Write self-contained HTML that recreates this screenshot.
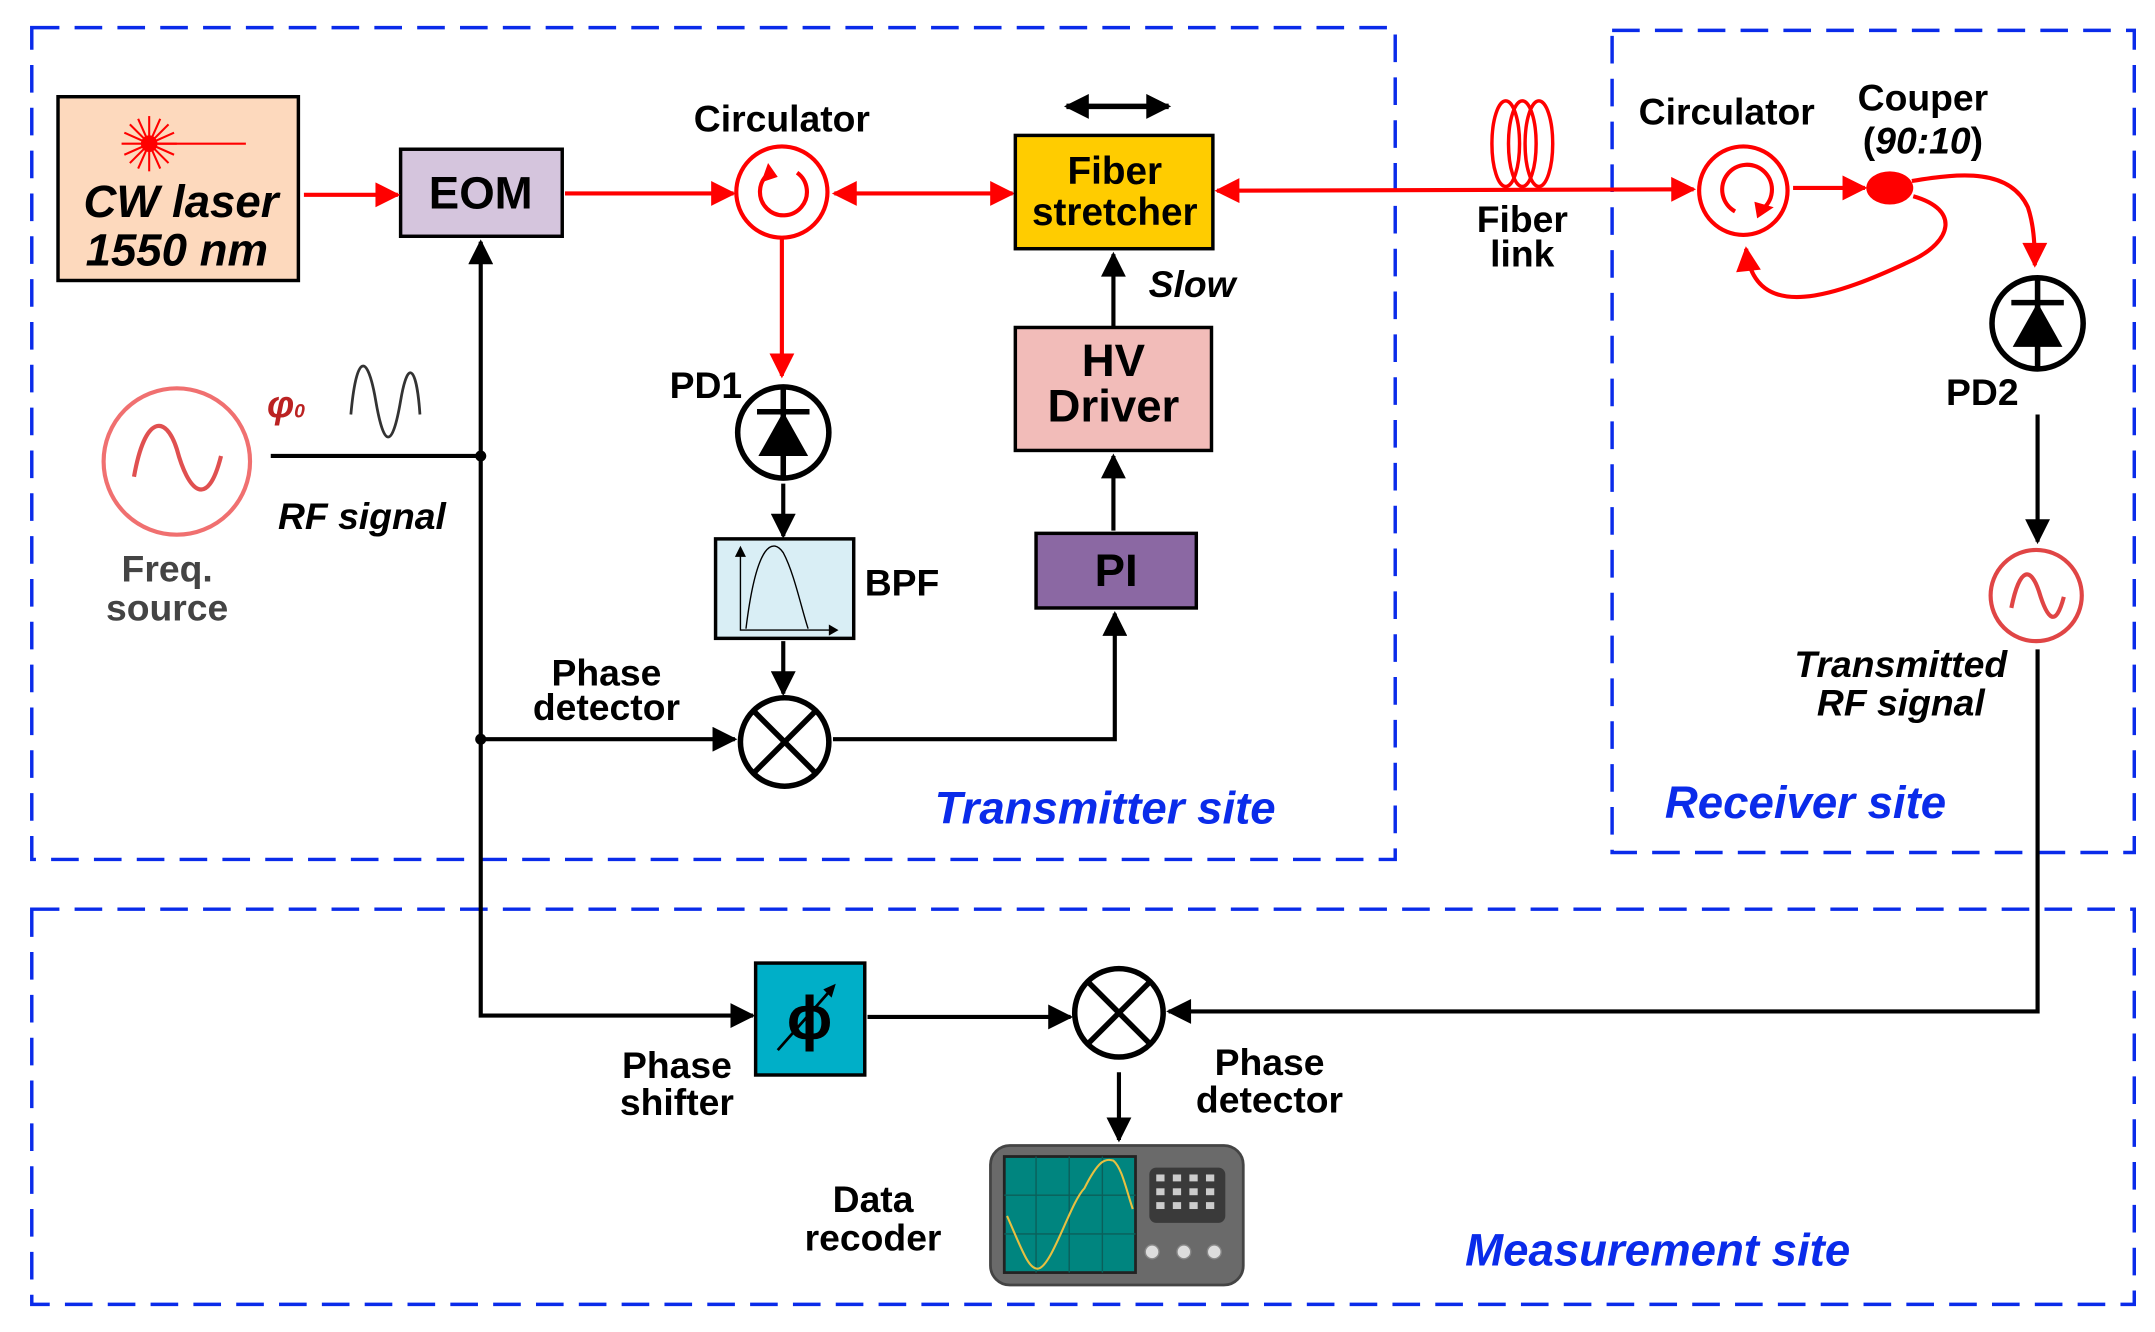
<!DOCTYPE html>
<html><head><meta charset="utf-8"><style>
html,body{margin:0;padding:0;background:#fff;}
svg{display:block;}
text{font-family:"Liberation Sans",sans-serif;font-weight:bold;}
</style></head><body>
<svg width="2155" height="1332" viewBox="0 0 1560 964" preserveAspectRatio="none" xmlns="http://www.w3.org/2000/svg">
<defs>
<marker id="ar" markerWidth="10" markerHeight="10" refX="9" refY="5" orient="auto" markerUnits="userSpaceOnUse" viewBox="0 0 10 10"><path d="M0,0 L10,5 L0,10z" fill="#f00"/></marker>
<marker id="ab" markerWidth="10" markerHeight="10" refX="9" refY="5" orient="auto" markerUnits="userSpaceOnUse" viewBox="0 0 10 10"><path d="M0,0 L10,5 L0,10z" fill="#000"/></marker>
<marker id="arS" viewBox="0 0 10 10" refX="9" refY="5" markerWidth="20" markerHeight="18" orient="auto-start-reverse" markerUnits="userSpaceOnUse"><path d="M0,0 L10,5 L0,10z" fill="#f00"/></marker>
<marker id="abS" viewBox="0 0 10 10" refX="9" refY="5" markerWidth="20" markerHeight="18" orient="auto-start-reverse" markerUnits="userSpaceOnUse"><path d="M0,0 L10,5 L0,10z" fill="#000"/></marker>
</defs>
<g fill="none" stroke="#0a2bea" stroke-width="2.5" stroke-dasharray="20,11">
<rect x="23" y="20" width="987" height="602"/>
<rect x="1167" y="22" width="378" height="595"/>
<rect x="23" y="658" width="1522" height="286"/>
</g>
<!-- CW laser -->
<rect x="42" y="70" width="174" height="133" fill="#fdd9bd" stroke="#000" stroke-width="2.5"/>
<g stroke="#f00" stroke-width="1.5"><line x1="108" y1="104" x2="178" y2="104"/>
<g transform="translate(108,104)">
<line x1="-20" y1="0" x2="20" y2="0"/><line x1="0" y1="-20" x2="0" y2="20"/><line x1="-14" y1="-14" x2="14" y2="14"/><line x1="-14" y1="14" x2="14" y2="-14"/>
<line x1="-18" y1="-8" x2="18" y2="8"/><line x1="-18" y1="8" x2="18" y2="-8"/><line x1="-8" y1="-18" x2="8" y2="18"/><line x1="8" y1="-18" x2="-8" y2="18"/></g></g>
<circle cx="108" cy="104" r="6" fill="#f00"/>
<text x="131" y="157" font-size="33" font-style="italic" text-anchor="middle">CW laser</text>
<text x="128" y="192" font-size="33" font-style="italic" text-anchor="middle">1550 nm</text>
<!-- EOM -->
<rect x="290" y="108" width="117" height="63" fill="#d5c5dd" stroke="#000" stroke-width="2.5"/>
<text x="348" y="151" font-size="33" text-anchor="middle">EOM</text>
<g stroke="#f00" stroke-width="3" fill="none">
<line x1="220" y1="141" x2="288" y2="141" marker-end="url(#arS)"/>
<line x1="409" y1="140" x2="531" y2="140" marker-end="url(#arS)"/>
<line x1="604" y1="140" x2="733" y2="140" marker-start="url(#arS)" marker-end="url(#arS)"/>
<line x1="881" y1="138" x2="1226" y2="137" marker-start="url(#arS)" marker-end="url(#arS)"/>
<line x1="566" y1="172" x2="566" y2="272" marker-end="url(#arS)"/>
<line x1="1298" y1="136" x2="1350" y2="136" marker-end="url(#arS)"/>
<path d="M1384,131 C1420,125 1455,122 1468,150 C1472,162 1473,175 1473,192" marker-end="url(#arS)"/>
<path d="M1385,142 C1420,152 1412,175 1385,188 C1330,214 1270,236 1264,180" marker-end="url(#arS)"/>
</g>
<!-- circulators -->
<g stroke="#f00" stroke-width="3" fill="none">
<circle cx="566" cy="139" r="33"/>
<path d="M556,126 A17,17 0 1,0 577,125"/>
<circle cx="1262" cy="138" r="32"/>
<path d="M1256,153 A18,18 0 1,1 1275,152"/>
<ellipse cx="1090" cy="104" rx="10" ry="31" stroke-width="2.5"/>
<ellipse cx="1102" cy="104" rx="10" ry="31" stroke-width="2.5"/>
<ellipse cx="1114" cy="104" rx="10" ry="31" stroke-width="2.5"/>
</g>
<path d="M556,118 L551,132 L563,128z" fill="#f00"/>
<path d="M1284,150 L1272,158 L1270,146z" fill="#f00"/>
<ellipse cx="1368" cy="136" rx="17" ry="12" fill="#f00"/>
<text x="566" y="95" font-size="27" text-anchor="middle">Circulator</text>
<text x="1250" y="90" font-size="27" text-anchor="middle">Circulator</text>
<text x="1392" y="80" font-size="27" text-anchor="middle">Couper</text>
<text x="1392" y="111" font-size="27" text-anchor="middle">(<tspan font-style="italic">90:10</tspan>)</text>
<text x="1102" y="168" font-size="27" text-anchor="middle">Fiber</text>
<text x="1102" y="193" font-size="27" text-anchor="middle">link</text>
<!-- Fiber stretcher -->
<rect x="735" y="98" width="143" height="82" fill="#ffcc00" stroke="#000" stroke-width="2.5"/>
<text x="807" y="133" font-size="28" text-anchor="middle">Fiber</text>
<text x="807" y="163" font-size="28" text-anchor="middle">stretcher</text>
<line x1="772" y1="77" x2="846" y2="77" stroke="#000" stroke-width="4" marker-start="url(#abS)" marker-end="url(#abS)"/>
<!-- HV driver, PI -->
<rect x="735" y="237" width="142" height="89" fill="#f2bcb9" stroke="#000" stroke-width="2.5"/>
<text x="806" y="272" font-size="33" text-anchor="middle">HV</text>
<text x="806" y="305" font-size="33" text-anchor="middle">Driver</text>
<rect x="750" y="386" width="116" height="54" fill="#8b68a3" stroke="#000" stroke-width="2.5"/>
<text x="808" y="424" font-size="33" text-anchor="middle">PI</text>
<text x="863" y="215" font-size="27" font-style="italic" text-anchor="middle">Slow</text>
<g stroke="#000" stroke-width="3" fill="none">
<line x1="806" y1="237" x2="806" y2="184" marker-end="url(#abS)"/>
<line x1="806" y1="384" x2="806" y2="330" marker-end="url(#abS)"/>
<polyline points="603,535 807,535 807,444" marker-end="url(#abS)"/>
<line x1="567" y1="350" x2="567" y2="388" marker-end="url(#abS)"/>
<line x1="567" y1="464" x2="567" y2="502" marker-end="url(#abS)"/>
<polyline points="348,330 348,175" marker-end="url(#abS)"/>
<polyline points="348,330 348,735 545,735" marker-end="url(#abS)"/>
<line x1="348" y1="535" x2="532" y2="535" marker-end="url(#abS)"/>
<line x1="196" y1="330" x2="348" y2="330"/>
<line x1="628" y1="736" x2="775" y2="736" marker-end="url(#abS)"/>
<polyline points="1475,470 1475,732 846,732" marker-end="url(#abS)"/>
<line x1="1475" y1="300" x2="1475" y2="392" marker-end="url(#abS)"/>
<line x1="810" y1="776" x2="810" y2="825" marker-end="url(#abS)"/>
</g>
<circle cx="348" cy="330" r="4" fill="#000"/><circle cx="348" cy="535" r="4" fill="#000"/>
<!-- photodiodes -->
<g>
<circle cx="567" cy="313" r="33" fill="#fff" stroke="#000" stroke-width="4"/>
<line x1="567" y1="280" x2="567" y2="346" stroke="#000" stroke-width="4"/>
<line x1="548" y1="298" x2="586" y2="298" stroke="#000" stroke-width="4"/>
<path d="M549,330 L585,330 L567,298z" fill="#000"/>
<circle cx="1475" cy="234" r="33" fill="#fff" stroke="#000" stroke-width="4"/>
<line x1="1475" y1="201" x2="1475" y2="267" stroke="#000" stroke-width="4"/>
<line x1="1456" y1="219" x2="1494" y2="219" stroke="#000" stroke-width="4"/>
<path d="M1457,251 L1493,251 L1475,219z" fill="#000"/>
</g>
<text x="511" y="288" font-size="27" text-anchor="middle">PD1</text>
<text x="1435" y="293" font-size="27" text-anchor="middle">PD2</text>
<!-- BPF -->
<rect x="518" y="390" width="100" height="72" fill="#d9eef5" stroke="#000" stroke-width="2.5"/>
<g stroke="#000" stroke-width="1" fill="none"><polyline points="536,397 536,456 605,456"/><path d="M540,455 C548,390 560,390 567,400 C575,415 580,440 585,455"/></g>
<path d="M532,403 L536,395 L540,403z M600,452 L607,456 L600,460z" fill="#000"/>
<text x="653" y="431" font-size="27" text-anchor="middle">BPF</text>
<!-- mixers -->
<g stroke="#000" stroke-width="4" fill="#fff">
<circle cx="568" cy="537" r="32"/>
<circle cx="810" cy="733" r="32"/>
</g>
<g stroke="#000" stroke-width="4">
<line x1="546" y1="515" x2="590" y2="559"/><line x1="590" y1="515" x2="546" y2="559"/>
<line x1="788" y1="711" x2="832" y2="755"/><line x1="832" y1="711" x2="788" y2="755"/>
</g>
<text x="439" y="496" font-size="27" text-anchor="middle">Phase</text>
<text x="439" y="521" font-size="27" text-anchor="middle">detector</text>
<text x="919" y="778" font-size="27" text-anchor="middle">Phase</text>
<text x="919" y="805" font-size="27" text-anchor="middle">detector</text>
<!-- Freq source -->
<circle cx="128" cy="334" r="53" fill="none" stroke="#f07070" stroke-width="3"/>
<path d="M97,345 C105,300 120,300 128,325 C136,355 150,370 160,330" fill="none" stroke="#e05050" stroke-width="3"/>
<text x="121" y="421" font-size="27" fill="#444" text-anchor="middle">Freq.</text>
<text x="121" y="449" font-size="27" fill="#444" text-anchor="middle">source</text>
<text x="207" y="302" font-size="28" fill="#b22" font-style="italic" font-family="Liberation Serif" text-anchor="middle">φ<tspan font-size="14">0</tspan></text>
<path d="M254,300 C258,255 266,255 272,290 C278,325 284,325 290,290 C296,255 302,270 304,300" fill="none" stroke="#333" stroke-width="2"/>
<text x="262" y="383" font-size="27" font-style="italic" text-anchor="middle">RF signal</text>
<text x="800" y="596" font-size="33" font-style="italic" fill="#0a2bea" text-anchor="middle">Transmitter site</text>
<!-- receiver RF -->
<circle cx="1474" cy="431" r="33" fill="none" stroke="#e04545" stroke-width="3"/>
<path d="M1456,440 C1462,410 1470,410 1476,428 C1482,448 1488,455 1494,432" fill="none" stroke="#e04545" stroke-width="3"/>
<text x="1376" y="490" font-size="27" font-style="italic" text-anchor="middle">Transmitted</text>
<text x="1376" y="518" font-size="27" font-style="italic" text-anchor="middle">RF signal</text>
<text x="1307" y="592" font-size="33" font-style="italic" fill="#0a2bea" text-anchor="middle">Receiver  site</text>
<!-- phase shifter -->
<rect x="547" y="697" width="79" height="81" fill="#00afc8" stroke="#000" stroke-width="2.5"/>
<text x="586" y="752" font-size="44" font-family="Liberation Serif" text-anchor="middle">ϕ</text>
<line x1="563" y1="760" x2="600" y2="718" stroke="#000" stroke-width="2"/>
<path d="M605,712 L596,716 L602,722z" fill="#000"/>
<text x="490" y="780" font-size="27" text-anchor="middle">Phase</text>
<text x="490" y="807" font-size="27" text-anchor="middle">shifter</text>
<!-- scope -->
<rect x="717" y="829" width="183" height="101" rx="14" fill="#6a6a6a" stroke="#444" stroke-width="2"/>
<rect x="727" y="837" width="95" height="84" fill="#00857f" stroke="#222" stroke-width="2"/>
<g stroke="#0b5f5a" stroke-width="1"><line x1="727" y1="865" x2="822" y2="865"/><line x1="727" y1="893" x2="822" y2="893"/><line x1="750" y1="837" x2="750" y2="921"/><line x1="774" y1="837" x2="774" y2="921"/><line x1="798" y1="837" x2="798" y2="921"/></g>
<path d="M729,880 C740,905 745,920 752,918 C762,915 775,870 785,860 C795,840 800,838 806,840 C812,845 815,860 820,875" fill="none" stroke="#e8c040" stroke-width="1.5"/>
<rect x="832" y="845" width="55" height="40" rx="5" fill="#3a3a3a"/>
<g fill="#ccc"><rect x="837" y="850" width="6" height="5"/><rect x="849" y="850" width="6" height="5"/><rect x="861" y="850" width="6" height="5"/><rect x="873" y="850" width="6" height="5"/><rect x="837" y="860" width="6" height="5"/><rect x="849" y="860" width="6" height="5"/><rect x="861" y="860" width="6" height="5"/><rect x="873" y="860" width="6" height="5"/><rect x="837" y="870" width="6" height="5"/><rect x="849" y="870" width="6" height="5"/><rect x="861" y="870" width="6" height="5"/><rect x="873" y="870" width="6" height="5"/></g>
<g fill="#ddd" stroke="#888"><circle cx="834" cy="906" r="5"/><circle cx="857" cy="906" r="5"/><circle cx="879" cy="906" r="5"/></g>
<text x="632" y="877" font-size="27" text-anchor="middle">Data</text>
<text x="632" y="905" font-size="27" text-anchor="middle">recoder</text>
<text x="1200" y="916" font-size="33" font-style="italic" fill="#0a2bea" text-anchor="middle">Measurement site</text>
</svg>
</body></html>
